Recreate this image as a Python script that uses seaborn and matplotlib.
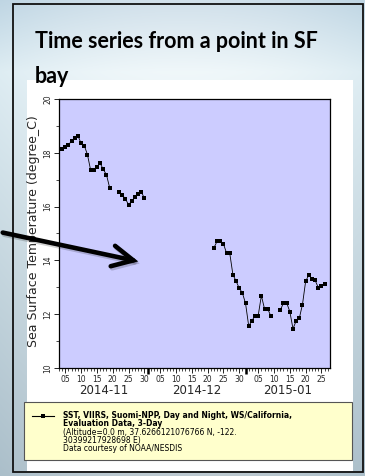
import numpy as np
import pandas as pd
import matplotlib
matplotlib.use("Agg")
import matplotlib.pyplot as plt
import matplotlib.dates as mdates
import matplotlib.patheffects as pe
from matplotlib.patches import Rectangle, FancyArrowPatch
from matplotlib.lines import Line2D
from matplotlib.ticker import MultipleLocator
import seaborn as sns

# ---- data: daily 3-day composite SST at one pixel in SF bay ----
run_starts = ["2014-11-03", "2014-11-22", "2014-12-22", "2015-01-12"]
run_ends = ["2014-11-19", "2014-11-30", "2015-01-09", "2015-01-26"]
sst_run1 = [18.14, 18.14, 18.20, 18.30, 18.44, 18.54, 18.63, 18.35, 18.27,
            17.93, 17.36, 17.36, 17.48, 17.62, 17.38, 17.19, 16.71]
sst_run2 = [16.53, 16.43, 16.29, 16.07, 16.20, 16.34, 16.47, 16.56, 16.31]
sst_run3 = [14.47, 14.71, 14.71, 14.62, 14.27, 14.27, 13.47, 13.23, 12.97,
            12.79, 12.40, 11.56, 11.75, 11.95, 11.95, 12.69, 12.20, 12.20, 11.93]
sst_run4 = [12.15, 12.42, 12.42, 12.10, 11.46, 11.75, 11.85, 12.36, 13.22,
            13.46, 13.32, 13.26, 12.99, 13.06, 13.11]
month_labels = ["2014-11", "2014-12", "2015-01"]
month_starts = ["2014-11-01", "2014-12-01", "2015-01-01", "2015-02-01"]

title_lines = ["Time series from a point in SF", "bay"]
y_label = "Sea Surface Temperature (degree_C)"
legend_bold = ["SST, VIIRS, Suomi-NPP, Day and Night, WS/California,",
               "Evaluation Data, 3-Day"]
legend_plain = ["(Altitude=0.0 m, 37.6266121076766 N, -122.",
                "30399217928698 E)",
                "Data courtesy of NOAA/NESDIS"]

frames = []
for k, (s, e, vals) in enumerate(zip(run_starts, run_ends,
                                     [sst_run1, sst_run2, sst_run3, sst_run4])):
    frames.append(pd.DataFrame({"date": pd.date_range(s, e, freq="D"),
                                "sst": vals, "seg": k}))
df = pd.concat(frames, ignore_index=True)

# ---- canvas ----
W, H = 365, 476
fig = plt.figure(figsize=(W / 100, H / 100), dpi=100)

def fx(px):
    return px / W

def fy(py):
    return 1 - py / H

# icy slide background
yy, xx = np.mgrid[0:H, 0:W]
t = yy / H
top = np.array([0.82, 0.88, 0.92])
mid = np.array([0.94, 0.97, 0.98])
bot = np.array([0.74, 0.79, 0.82])
w1 = np.clip(t / 0.15, 0, 1)[..., None]
w2 = np.clip((t - 0.15) / 0.85, 0, 1)[..., None]
img = top * (1 - w1) + mid * w1
img = img * (1 - w2) + bot * w2
edge = (np.abs(xx - W / 2) / (W / 2))[..., None]
img = img - 0.07 * edge ** 2 * np.array([1.0, 0.6, 0.4])
img = np.clip(img, 0, 1)

bg = fig.add_axes([0, 0, 1, 1], zorder=0)
bg.imshow(img, extent=[0, W, H, 0], aspect="auto", interpolation="bilinear")
bg.set_xlim(0, W)
bg.set_ylim(H, 0)
bg.set_axis_off()

bg.add_patch(Rectangle((13, 4), 349.5, 468, fill=False, ec="#111111", lw=1.3))
bg.add_patch(Rectangle((27, 80), 326, 391, fc="white", ec="none"))

bg.text(35, 48, title_lines[0], fontsize=15.5, fontweight="bold",
        family="Lato", color="black", va="baseline", ha="left")
bg.text(35, 83, title_lines[1], fontsize=15.5, fontweight="bold",
        family="Lato", color="black", va="baseline", ha="left")

# legend panel
bg.add_patch(Rectangle((24, 402), 328, 58, fc="#ffffcc", ec="#555555", lw=0.8))
bg.add_line(Line2D([31.5, 53.5], [416, 416], color="black", lw=0.8))
bg.add_line(Line2D([42.5], [416], color="black", marker="s",
                   markersize=3.3, markeredgewidth=0))
bg.text(63, 411.5, "\n".join(legend_bold), fontsize=5.5, fontweight="bold",
        va="top", ha="left", linespacing=0.82)
bg.text(63, 428.5, "\n".join(legend_plain), fontsize=5.5,
        va="top", ha="left", linespacing=0.82)

# ---- the time-series axes ----
sns.set_style("ticks")
ax = fig.add_axes([fx(59), fy(368), fx(330) - fx(59), (368 - 99) / H], zorder=2)
ax.set_facecolor("#ccccff")
sns.lineplot(data=df, x="date", y="sst", units="seg", estimator=None,
             color="black", lw=0.6, marker="s", markersize=3.3,
             markeredgewidth=0, legend=False, ax=ax)

x0 = pd.Timestamp("2014-11-03 00:00")
x1 = pd.Timestamp("2015-01-27 17:00")
ax.set_xlim(x0, x1)
ax.set_ylim(10, 20)

ax.xaxis.set_major_locator(mdates.DayLocator(bymonthday=[5, 10, 15, 20, 25, 30]))
ax.xaxis.set_major_formatter(mdates.DateFormatter("%d"))
ax.xaxis.set_minor_locator(mdates.DayLocator())
ax.yaxis.set_major_locator(MultipleLocator(2))
ax.yaxis.set_minor_locator(MultipleLocator(1))
ax.tick_params(axis="both", which="major", length=3.5, width=0.6,
               labelsize=5.5, pad=1.5, color="black")
ax.tick_params(axis="both", which="minor", length=2, width=0.5, color="black")
for lab in ax.get_yticklabels():
    lab.set_rotation(90)
    lab.set_va("center")
for sp in ax.spines.values():
    sp.set_color("black")
    sp.set_linewidth(0.9)

ax.set_xlabel("")
ax.set_ylabel(y_label, fontsize=9)
ax.yaxis.set_label_coords(-0.07, 0.51)

# heavier ticks at month boundaries
ms = pd.to_datetime(month_starts)
sec = ax.secondary_xaxis("bottom")
sec.set_xticks(mdates.date2num([d for d in ms if x0 < d < x1]))
sec.tick_params(length=4.5, width=1.8, labelbottom=False, color="black")
sec.spines["bottom"].set_visible(False)

# month names centred under the visible part of each month
for lab, a, b in zip(month_labels, ms[:-1], ms[1:]):
    lo, hi = max(a, x0), min(b, x1)
    mid_t = lo + (hi - lo) / 2
    ax.text(mid_t, -0.082, lab, transform=ax.get_xaxis_transform(),
            fontsize=8.5, ha="center", va="center")

# ---- pointer arrow ----
ov = fig.add_axes([0, 0, 1, 1], zorder=5)
ov.set_xlim(0, W)
ov.set_ylim(H, 0)
ov.set_axis_off()
ov.patch.set_alpha(0)
arrow = FancyArrowPatch((0, 232), (141, 262),
                        arrowstyle="->,head_length=1.5,head_width=0.75",
                        mutation_scale=10, lw=3.3, color="black",
                        capstyle="round", joinstyle="miter")
arrow.set_path_effects([pe.SimpleLineShadow(offset=(1.0, -1.5),
                                            shadow_color="black", alpha=0.18),
                        pe.Normal()])
ov.add_patch(arrow)

fig.savefig("out.png", dpi=100)
